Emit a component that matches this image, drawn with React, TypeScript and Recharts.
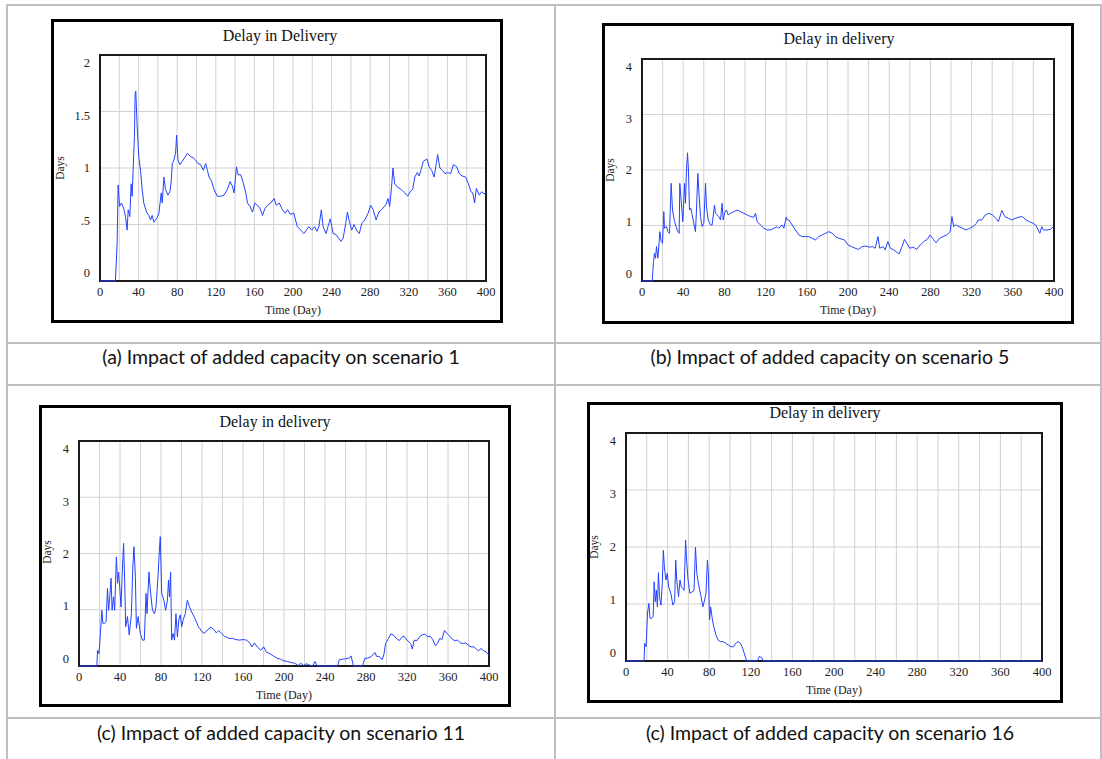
import React from "react";
import { LineChart, Line, XAxis, YAxis, CartesianGrid, ReferenceArea } from "recharts";

// [day, delay in days]
const delayScenario1: [number, number][] = [
  [0, 0], [16, 0], [17.7, 0.33], [18.8, 0.85], [20.2, 0.66], [22.2, 0.69], [24.6, 0.64], [26.4, 0.57], [28.1, 0.45],
  [29.2, 0.63], [30.9, 0.57], [32.3, 0.86], [33.3, 0.75], [35.0, 1.13], [35.7, 1.28], [36.4, 1.66], [37.1, 1.68],
  [38.5, 1.37], [40.2, 1.1], [42.0, 0.98], [43.7, 0.81], [45.4, 0.69], [48.2, 0.61], [50.6, 0.58], [52.4, 0.54],
  [54.1, 0.58], [55.8, 0.52], [59.3, 0.56], [61.0, 0.6], [63.5, 0.78], [64.5, 0.69], [66.2, 0.92], [67.9, 0.81],
  [70.4, 0.76], [72.4, 0.79], [73.9, 0.89], [74.9, 1.04], [76.6, 1.07], [78.3, 1.13], [79.4, 1.29], [80.8, 1.07],
  [82.8, 1.03], [85.3, 1.06], [87.7, 1.09], [90.5, 1.13], [93.9, 1.1], [96.7, 1.09], [99.1, 1.07], [101.5, 1.04],
  [104.3, 1.03], [107.1, 0.98], [109.5, 1.04], [111.3, 0.98], [113, 0.92], [115.4, 0.89], [118.1, 0.81], [121.6, 0.75],
  [125.1, 0.75], [128.5, 0.76], [132, 0.81], [134.8, 0.88], [137.2, 0.84], [138.9, 0.78], [141.4, 1.01], [143.1, 0.94],
  [145.9, 0.94], [148.7, 0.86], [151.1, 0.78], [152.8, 0.69], [155.5, 0.66], [158, 0.61], [160.4, 0.69], [163.2, 0.67],
  [165.9, 0.64], [168.4, 0.58], [170.8, 0.64], [173.6, 0.67], [177, 0.69], [180.5, 0.73], [182.5, 0.67], [185.7, 0.69],
  [189.2, 0.63], [191.9, 0.6], [194.4, 0.63], [197.1, 0.59], [200.8, 0.6], [204.5, 0.48], [208.2, 0.45], [211.2, 0.42],
  [213.8, 0.45], [216.4, 0.48], [219.3, 0.45], [222.3, 0.48], [224.9, 0.44], [226.8, 0.48], [229.4, 0.63], [231.2, 0.48],
  [234.2, 0.42], [237.2, 0.51], [238.6, 0.55], [241.6, 0.42], [244.6, 0.41], [247.2, 0.38], [249.8, 0.35], [252, 0.38],
  [254.6, 0.51], [256.4, 0.61], [258.3, 0.53], [260.9, 0.45], [263.2, 0.5], [265.8, 0.45], [268.7, 0.42], [271.3, 0.51],
  [274.3, 0.54], [277.9, 0.6], [280.5, 0.67], [283.1, 0.63], [286.1, 0.54], [289.1, 0.61], [292.8, 0.64], [296.5, 0.68],
  [298.4, 0.73], [300.2, 0.66], [302.1, 0.83], [303.6, 1.0], [305.4, 0.86], [308.3, 0.83], [312.1, 0.81], [315.8, 0.78],
  [318.8, 0.75], [321.4, 0.79], [324, 0.81], [326.2, 0.92], [328.8, 0.96], [330.7, 0.93], [332.5, 0.98], [335.1, 1.06],
  [338.8, 1.08], [341.1, 1.01], [343.7, 0.98], [346.3, 0.92], [348.5, 1.04], [349.9, 1.12], [352.2, 1.0], [354.8, 0.98],
  [357.4, 0.95], [360.3, 0.96], [363.3, 0.95], [366.3, 1.03], [369.7, 1.01], [372.3, 0.95], [375.2, 0.93], [378.9, 0.92],
  [381.8, 0.86], [384.4, 0.79], [386.3, 0.78], [388.2, 0.69], [390, 0.82], [393, 0.76], [395.6, 0.79], [398.2, 0.77],
  [400, 0.79],
];

const delayScenario5: [number, number][] = [
  [0, 0], [9.9, 0], [11.2, 0.35], [12.1, 0.5], [13.1, 0.41], [14.1, 0.62], [15.4, 0.41], [16.7, 0.71], [17.3, 0.89],
  [18.6, 0.71], [19.9, 0.68], [21.2, 1.25], [21.8, 0.95], [23.8, 0.98], [25.1, 0.89], [26.7, 0.86], [28.3, 1.76],
  [29.6, 1.28], [31.6, 1.07], [34.1, 0.92], [36.1, 0.86], [36.7, 1.76], [38.0, 1.46], [39.6, 1.07], [41.3, 1.76],
  [42.2, 1.4], [43.2, 2.0], [44.2, 2.31], [45.1, 2.0], [46.1, 1.28], [47.4, 1.31], [48.7, 1.19], [50.3, 1.04],
  [51.9, 0.89], [52.9, 1.28], [54.2, 1.94], [55.5, 1.52], [56.8, 1.16], [58.4, 0.98], [60.0, 1.04], [61.7, 1.76],
  [62.6, 1.34], [64.3, 1.1], [66.5, 1.01], [68.1, 1.01], [70.4, 1.37], [71.4, 1.22], [73.0, 1.19], [74.6, 1.16],
  [76.2, 1.1], [77.8, 1.4], [78.8, 1.1], [80.1, 1.22], [82.0, 1.28], [83.7, 1.19], [85.9, 1.22], [89.2, 1.25],
  [92.4, 1.28], [95.6, 1.25], [98.9, 1.22], [102.1, 1.19], [105.3, 1.16], [108.6, 1.15], [110.2, 1.22], [111.8, 1.07],
  [115.0, 1.01], [118.3, 0.95], [121.5, 0.92], [124.8, 0.92], [128.0, 0.95], [131.2, 0.98], [132.8, 0.95], [136.1, 1.01],
  [137.7, 0.95], [140.0, 1.15], [140.9, 1.1], [142.5, 1.1], [145.8, 1.01], [149.0, 0.92], [152.3, 0.83], [155.5, 0.8],
  [158.7, 0.8], [162.0, 0.8], [165.2, 0.77], [168.4, 0.74], [171.7, 0.8], [174.9, 0.83], [178.2, 0.86], [181.4, 0.89],
  [184.6, 0.86], [187.9, 0.8], [191.1, 0.77], [196.6, 0.74], [200, 0.65], [203.5, 0.62], [206.9, 0.59], [210.3, 0.57],
  [213.7, 0.62], [217.2, 0.63], [220.6, 0.61], [224, 0.62], [226.4, 0.59], [229.1, 0.8], [230.8, 0.59], [234.2, 0.62],
  [236, 0.56], [238.7, 0.71], [241.1, 0.59], [244.5, 0.56], [247.9, 0.51], [249.7, 0.49], [252.4, 0.62], [254.8, 0.75],
  [257.1, 0.68], [259.9, 0.59], [263.3, 0.61], [266.7, 0.57], [270.1, 0.65], [273.5, 0.71], [276.9, 0.75], [279.7, 0.83],
  [282, 0.77], [285.5, 0.69], [288.9, 0.77], [292.3, 0.8], [295.8, 0.83], [299.2, 0.89], [300.9, 1.16], [302.6, 0.98],
  [304.3, 1.01], [307.8, 0.98], [311.2, 0.95], [314.6, 0.92], [318, 0.95], [321.4, 0.98], [324.8, 1.04], [326.5, 1.1],
  [329.9, 1.1], [333.3, 1.19], [336.8, 1.22], [340.2, 1.19], [343.6, 1.13], [346, 1.07], [349.4, 1.27], [352.2, 1.16],
  [355.6, 1.13], [359, 1.1], [362.5, 1.13], [365.9, 1.15], [369.3, 1.16], [372.7, 1.1], [376.1, 1.07], [379.5, 1.04],
  [382.2, 1.01], [384.7, 0.92], [386.3, 0.86], [388.1, 0.98], [389.8, 0.92], [393.2, 0.92], [396.6, 0.93], [399.3, 0.98],
  [400, 0.98],
];

const delayScenario11: [number, number][] = [
  [0, 0], [17.4, 0], [18.1, 0.28], [19.5, 0.22], [20.9, 0.58], [22.3, 0.99], [23.3, 0.76], [25.0, 0.76], [26.4, 0.79],
  [27.8, 1.38], [28.9, 0.99], [29.9, 1.2], [31.3, 1.56], [32.3, 0.99], [33.7, 1.23], [34.8, 0.99], [36.5, 1.94],
  [37.6, 1.47], [38.6, 1.67], [39.7, 1.41], [41.0, 1.05], [42.4, 1.76], [43.5, 2.18], [44.5, 1.53], [45.6, 0.7],
  [47.3, 0.88], [49.0, 0.55], [51.1, 0.93], [52.5, 1.76], [53.6, 2.12], [55.0, 1.59], [56.0, 0.67], [57.7, 0.88],
  [59.8, 0.58], [61.9, 0.46], [63.7, 0.46], [65.4, 1.29], [66.4, 0.93], [68.2, 1.67], [69.6, 1.35], [71.7, 0.99],
  [73.7, 0.93], [75.1, 1.05], [76.9, 1.53], [78.6, 2.12], [79.3, 2.3], [80.7, 1.29], [82.8, 1.17], [84.5, 0.99],
  [86.3, 1.17], [87.3, 1.53], [88.3, 1.23], [89.4, 1.67], [90.4, 0.46], [91.8, 0.58], [93.2, 0.46], [94.6, 0.93],
  [96.0, 0.52], [97.4, 0.82], [98.8, 0.91], [100.2, 0.7], [101.6, 0.82], [103.7, 0.93], [105.7, 1.17], [107.8, 1.05],
  [109.9, 0.96], [113.0, 0.85], [116.5, 0.7], [120.0, 0.61], [122.4, 0.58], [125.2, 0.64], [128.7, 0.69], [131.5, 0.65],
  [133.9, 0.59], [136.3, 0.63], [139.1, 0.58], [141.9, 0.53], [146.1, 0.49], [149.6, 0.49], [153.0, 0.47], [156.5, 0.46],
  [160.0, 0.47], [163.5, 0.46], [167.0, 0.4], [168.7, 0.34], [171.1, 0.41], [173.9, 0.34], [177.4, 0.28], [180.2, 0.34],
  [182.6, 0.25], [186.1, 0.22], [189.6, 0.18], [193.0, 0.14], [196.5, 0.12], [200.0, 0.09], [203.5, 0.08], [207.0, 0.06],
  [210.4, 0.05], [213.9, 0.01], [216.3, 0.05], [219.1, 0.01], [221.9, 0.04], [224.3, 0.02], [227.8, 0], [230.3, 0.08],
  [232.3, 0], [252.2, 0], [253.9, 0.11], [256.7, 0.12], [260.2, 0.13], [263.7, 0.14], [265.4, 0.18], [267.8, 0],
  [276.5, 0], [279.0, 0.14], [281.7, 0.14], [285.2, 0.17], [288.7, 0.24], [290.4, 0.17], [292.9, 0.17], [295.7, 0.11],
  [297.4, 0.2], [299.1, 0.4], [301.9, 0.49], [304.3, 0.57], [306.8, 0.55], [309.6, 0.49], [312.3, 0.45], [314.8, 0.51],
  [317.2, 0.53], [320.0, 0.46], [323.5, 0.4], [325.2, 0.3], [327.0, 0.46], [329.7, 0.45], [332.2, 0.52], [334.6, 0.55],
  [337.4, 0.57], [340.2, 0.52], [342.6, 0.53], [345.0, 0.47], [347.8, 0.36], [349.6, 0.4], [352.0, 0.49], [354.1, 0.47],
  [356.5, 0.63], [359.0, 0.58], [361.7, 0.53], [364.5, 0.47], [367.0, 0.45], [369.4, 0.46], [372.2, 0.41], [375.0, 0.4],
  [377.4, 0.41], [379.8, 0.37], [382.6, 0.34], [385.4, 0.34], [387.8, 0.3], [389.6, 0.27], [392.3, 0.31], [394.8, 0.27],
  [397.2, 0.25], [400, 0.2],
];

const delayScenario16: [number, number][] = [
  [0, 0], [17.3, 0], [18.0, 0.31], [19.3, 0.25], [20.7, 0.84], [22.0, 1.01], [23.1, 0.75], [24.7, 0.75], [26.1, 0.78],
  [27.1, 1.39], [28.1, 1.04], [29.2, 1.24], [30.2, 0.95], [31.2, 1.55], [32.2, 1.13], [33.6, 0.98], [34.9, 1.36],
  [35.9, 1.94], [36.9, 1.65], [38.3, 1.42], [39.7, 1.54], [41.0, 1.3], [43.1, 1.19], [45.1, 0.98], [46.8, 1.04],
  [47.8, 1.77], [48.8, 1.42], [50.5, 1.13], [51.9, 1.42], [53.2, 1.3], [54.6, 1.27], [55.9, 1.24], [57.3, 2.12],
  [58.3, 1.77], [59.7, 1.42], [61.4, 1.19], [63.4, 1.21], [65.4, 1.24], [66.8, 2.0], [68.1, 1.54], [70.2, 1.3],
  [72.2, 1.13], [73.9, 0.95], [75.6, 1.07], [76.9, 1.19], [78.3, 1.77], [79.3, 1.51], [80.3, 0.72], [81.4, 0.95],
  [83.1, 0.72], [84.4, 0.6], [86.4, 0.46], [88.5, 0.37], [90.8, 0.34], [93.2, 0.34], [95.9, 0.31], [98.6, 0.28],
  [101.0, 0.25], [103.4, 0.25], [105.4, 0.31], [107.8, 0.34], [110.2, 0.31], [112.2, 0.22], [114.6, 0.08], [116.3, 0],
  [126.4, 0], [128.1, 0.08], [130.5, 0.06], [131.9, 0], [400, 0],
];

const dayTicks = [0, 20, 40, 60, 80, 100, 120, 140, 160, 180, 200, 220, 240, 260, 280, 300, 320, 340, 360, 380, 400];
const daysTicksSmall = [0, 0.5, 1, 1.5, 2];
const daysTicksLarge = [0, 1, 2, 3, 4];

const captions = [
  "(a) Impact of added capacity on scenario 1",
  "(b) Impact of added capacity on scenario 5",
  "(c) Impact of added capacity on scenario 11",
  "(c) Impact of added capacity on scenario 16",
];

const SERIF = "'Liberation Serif', 'Times New Roman', serif";
const LINE_BLUE = "#2442ff";
const TABLE_GRAY = "#bfbfbf";

type Box = { x: number; y: number; w: number; h: number };

interface PanelProps {
  title: string;
  series: [number, number][];
  yTicks: number[];
  box: Box;
  plot: Box;
  titlePos: [number, number];
  daysPos: [number, number];
}

const Y_AXIS_W = 30;
const X_AXIS_H = 40;

function fmtY(v: number) {
  if (v === 0.5) return ".5";
  return String(v);
}

function Panel({ title, series, yTicks, box, plot, titlePos, daysPos }: PanelProps) {
  const data = series.map(([day, delay]) => ({ day, delay }));
  const yMax = yTicks[yTicks.length - 1];
  const margin = {
    top: plot.y - box.y,
    left: plot.x - box.x - Y_AXIS_W,
    right: box.x + box.w - (plot.x + plot.w),
    bottom: box.y + box.h - (plot.y + plot.h) - X_AXIS_H,
  };
  // middle of the plot, in the chart's own svg coordinates
  const midY = plot.y - box.y + plot.h / 2;

  // eslint-disable-next-line @typescript-eslint/no-explicit-any
  const renderYTick = (p: any) => (
    <text
      x={p.x}
      y={midY + (p.y - midY) * 0.93}
      dy="0.35em"
      textAnchor="end"
      fontFamily={SERIF}
      fontSize={12.5}
      fill="#222"
    >
      {fmtY(p.payload.value)}
    </text>
  );

  // eslint-disable-next-line @typescript-eslint/no-explicit-any
  const renderXTick = (p: any) =>
    p.payload.value % 40 === 0 ? (
      <text x={p.x} y={p.y} dy="0.71em" textAnchor="middle" fontFamily={SERIF} fontSize={12.5} fill="#222">
        {p.payload.value}
      </text>
    ) : (
      <g />
    );

  return (
    <>
      <div
        style={{
          position: "absolute",
          left: box.x,
          top: box.y,
          width: box.w,
          height: box.h,
          border: "3px solid #000",
          boxSizing: "border-box",
          background: "#fff",
        }}
      />
      <div style={{ position: "absolute", left: box.x, top: box.y }}>
        <LineChart width={box.w} height={box.h} data={data} margin={margin}>
          <CartesianGrid stroke="#d2d2d2" strokeWidth={1} />
          <XAxis
            dataKey="day"
            type="number"
            domain={[0, 400]}
            ticks={dayTicks}
            interval={0}
            height={X_AXIS_H}
            axisLine={false}
            tickLine={false}
            tickSize={0}
            tickMargin={6}
            tick={renderXTick}
            label={{
              value: "Time (Day)",
              position: "insideBottom",
              offset: 7,
              style: { fontFamily: SERIF, fontSize: 12, fill: "#222" },
            }}
          />
          <YAxis
            type="number"
            domain={[0, yMax]}
            ticks={yTicks}
            interval={0}
            width={Y_AXIS_W}
            axisLine={false}
            tickLine={false}
            tickSize={0}
            tickMargin={10}
            tick={renderYTick}
          />
          <ReferenceArea x1={0} x2={400} y1={0} y2={yMax} fill="none" stroke="#1a1a1a" strokeWidth={2} />
          <Line
            type="linear"
            dataKey="delay"
            stroke={LINE_BLUE}
            strokeWidth={1}
            dot={false}
            isAnimationActive={false}
          />
        </LineChart>
      </div>
      <div
        style={{
          position: "absolute",
          left: titlePos[0],
          top: titlePos[1],
          transform: "translate(-50%, -50%)",
          fontFamily: SERIF,
          fontSize: 16,
          lineHeight: 1,
          whiteSpace: "nowrap",
          color: "#111",
        }}
      >
        {title}
      </div>
      <div
        style={{
          position: "absolute",
          left: daysPos[0],
          top: daysPos[1],
          transform: "translate(-50%, -50%) rotate(-90deg)",
          fontFamily: SERIF,
          fontSize: 11.5,
          lineHeight: 1,
          whiteSpace: "nowrap",
          color: "#222",
        }}
      >
        Days
      </div>
    </>
  );
}

function Rule({ x, y, w, h }: Box) {
  return <div style={{ position: "absolute", left: x, top: y, width: w, height: h, background: TABLE_GRAY }} />;
}

function Caption({ text, cx, cy }: { text: string; cx: number; cy: number }) {
  return (
    <div
      style={{
        position: "absolute",
        left: cx,
        top: cy,
        transform: "translate(-50%, -50%)",
        fontFamily: "Lato, 'Open Sans', sans-serif",
        fontSize: 19.5,
        lineHeight: 1,
        whiteSpace: "nowrap",
        color: "#111",
      }}
    >
      {text}
    </div>
  );
}

export default function App() {
  return (
    <div
      style={{
        position: "absolute",
        left: 0,
        top: 0,
        width: 1102,
        height: 759,
        background: "#fff",
        overflow: "hidden",
      }}
    >
      {/* table rules */}
      <Rule x={6} y={4} w={1096} h={2} />
      <Rule x={6} y={342} w={1096} h={2} />
      <Rule x={6} y={384} w={1096} h={2} />
      <Rule x={6} y={717} w={1096} h={2} />
      <Rule x={6} y={4} w={2} h={755} />
      <Rule x={554} y={4} w={2} h={755} />
      <Rule x={1100} y={4} w={2} h={755} />

      <Panel
        title="Delay in Delivery"
        series={delayScenario1}
        yTicks={daysTicksSmall}
        box={{ x: 51, y: 19, w: 452, h: 304 }}
        plot={{ x: 100, y: 55, w: 386, h: 226 }}
        titlePos={[280, 36]}
        daysPos={[61, 168]}
      />
      <Panel
        title="Delay in delivery"
        series={delayScenario5}
        yTicks={daysTicksLarge}
        box={{ x: 602, y: 23, w: 472, h: 301 }}
        plot={{ x: 642, y: 59, w: 412, h: 222 }}
        titlePos={[839, 39]}
        daysPos={[611, 170]}
      />
      <Panel
        title="Delay in delivery"
        series={delayScenario11}
        yTicks={daysTicksLarge}
        box={{ x: 39, y: 405, w: 472, h: 302 }}
        plot={{ x: 79, y: 441, w: 410, h: 225 }}
        titlePos={[275, 422]}
        daysPos={[48, 552]}
      />
      <Panel
        title="Delay in delivery"
        series={delayScenario16}
        yTicks={daysTicksLarge}
        box={{ x: 587, y: 402, w: 476, h: 301 }}
        plot={{ x: 626, y: 433, w: 416, h: 228 }}
        titlePos={[825, 413]}
        daysPos={[595, 547]}
      />

      <Caption text={captions[0]} cx={281} cy={357} />
      <Caption text={captions[1]} cx={830} cy={357} />
      <Caption text={captions[2]} cx={281} cy={733} />
      <Caption text={captions[3]} cx={830} cy={733} />
    </div>
  );
}
